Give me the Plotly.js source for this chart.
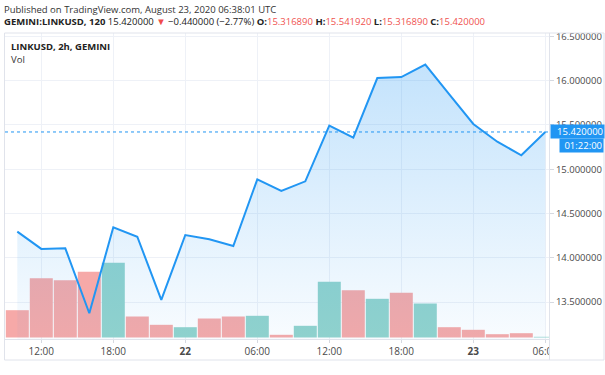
<!DOCTYPE html>
<html>
<head>
<meta charset="utf-8">
<script src="https://cdn.plot.ly/plotly-3.0.1.min.js"></script>
<style>html,body{margin:0;padding:0;background:#fff;}#chart{width:605px;height:375px;}</style>
</head>
<body>
<div id="chart"></div>
<script>
// 2-hour bars, GEMINI:LINKUSD, Aug 21 10:00 -> Aug 23 06:00 (UTC)
const times = [
  '2020-08-21 10:00','2020-08-21 12:00','2020-08-21 14:00','2020-08-21 16:00','2020-08-21 18:00','2020-08-21 20:00','2020-08-21 22:00',
  '2020-08-22 00:00','2020-08-22 02:00','2020-08-22 04:00','2020-08-22 06:00','2020-08-22 08:00','2020-08-22 10:00','2020-08-22 12:00',
  '2020-08-22 14:00','2020-08-22 16:00','2020-08-22 18:00','2020-08-22 20:00','2020-08-22 22:00',
  '2020-08-23 00:00','2020-08-23 02:00','2020-08-23 04:00','2020-08-23 06:00'
];
const closePrice = [14.295, 14.10, 14.107, 13.374, 14.344, 14.238, 13.524, 14.257, 14.209, 14.133, 14.886, 14.754, 14.863, 15.491,
  15.356, 16.029, 16.04, 16.18, 15.845, 15.51, 15.31, 15.157, 15.42];
const volume = [27300, 59300, 57300, 65700, 74700, 21000, 12700, 10300, 19000, 21000, 21700, 2700, 11700, 55700,
  47300, 38700, 44700, 34000, 10300, 7700, 3300, 4300, 700];
const barDirection = ['down','down','down','down','up','down','down','up','down','down','up','down','up','up',
  'down','up','down','up','down','down','down','down','up'];
const tickTimes = ['2020-08-21 12:00','2020-08-21 18:00','2020-08-22 00:00','2020-08-22 06:00','2020-08-22 12:00','2020-08-22 18:00','2020-08-23 00:00','2020-08-23 06:00'];
const tickLabels = ['12:00','18:00','<b>22</b>','06:00','12:00','18:00','<b>23</b>','06:00'];
const priceTicks = [13.5, 14.0, 14.5, 15.0, 15.5, 16.0, 16.5];
const lastPrice = 15.42;

const UP = '#92d3cc', DOWN = '#f6a9a8', BLUE = '#2196f3';
const FONT = 'Open Sans, sans-serif';

const traces = [
  {
    type: 'bar', x: times, y: volume, yaxis: 'y', xaxis: 'x',
    marker: { color: barDirection.map(d => d === 'up' ? UP : DOWN), line: { width: 0 } },
    width: 2 * 3600 * 1000 * 23 / 24,
    hoverinfo: 'skip'
  },
  {
    type: 'scatter', mode: 'lines', x: times, y: closePrice, yaxis: 'y2', xaxis: 'x',
    line: { color: BLUE, width: 2 },
    fill: 'tozeroy',
    fillgradient: { type: 'vertical', start: 13.08, stop: 16.2,
      colorscale: [[0, 'rgba(33,150,243,0.03)'], [1, 'rgba(33,150,243,0.27)']] },
    hoverinfo: 'skip'
  }
];

// paper coordinate helpers (plot area: x 5..549, y 33..339)
const px = v => (v - 5) / 544;
const py = v => (339 - v) / 306;

const layout = {
  width: 605, height: 375,
  margin: { l: 5, r: 56, t: 33, b: 36 },
  paper_bgcolor: '#ffffff', plot_bgcolor: '#ffffff',
  showlegend: false,
  font: { family: FONT, size: 10, color: '#4a4a4a' },
  xaxis: {
    type: 'date', range: ['2020-08-21 08:58:30', '2020-08-23 06:18:30'],
    tickvals: tickTimes, ticktext: tickLabels,
    showgrid: true, gridcolor: '#eef1f7', gridwidth: 1,
    ticks: 'outside', ticklen: 3, tickcolor: '#d6d9e0',
    tickfont: { family: FONT, size: 10, color: '#4a4a4a' },
    showline: true, linecolor: '#e0e3eb', linewidth: 1,
    zeroline: false, fixedrange: true
  },
  yaxis: {
    range: [-1500, 304500], visible: false, showgrid: false, zeroline: false, fixedrange: true
  },
  yaxis2: {
    overlaying: 'y', side: 'right', range: [13.0835, 16.537],
    tickvals: priceTicks, ticktext: priceTicks.map(v => v.toFixed(6)),
    showgrid: true, gridcolor: '#eef1f7', gridwidth: 1,
    ticks: 'outside', ticklen: 4, tickcolor: '#d6d9e0',
    tickfont: { family: FONT, size: 9.5, color: '#4a4a4a' },
    showline: true, linecolor: '#e0e3eb', linewidth: 1,
    zeroline: false, fixedrange: true
  },
  shapes: [
    // last price dotted line
    { type: 'line', xref: 'paper', yref: 'y2', x0: 0, x1: 1, y0: lastPrice, y1: lastPrice,
      line: { color: BLUE, width: 1, dash: 'dot' }, layer: 'above' },
    // cover clipped last time label beyond price axis
    { type: 'rect', xref: 'paper', yref: 'paper', x0: px(549.5), x1: px(604), y0: py(340), y1: py(359.5),
      fillcolor: '#ffffff', line: { width: 0 }, layer: 'above' },
    // outer frame
    { type: 'rect', xref: 'paper', yref: 'paper', x0: px(4.5), x1: px(604), y0: py(360), y1: py(33),
      line: { color: '#e0e3eb', width: 1 }, fillcolor: 'rgba(0,0,0,0)', layer: 'above' },
    // price axis separator
    { type: 'line', xref: 'paper', yref: 'paper', x0: px(549.5), x1: px(549.5), y0: py(360), y1: py(33),
      line: { color: '#e0e3eb', width: 1 }, layer: 'above' }
  ],
  annotations: [
    { xref: 'paper', yref: 'paper', x: px(3), y: py(9), xanchor: 'left', yanchor: 'middle', showarrow: false,
      text: 'Published on TradingView.com, August 23, 2020 06:38:01 UTC', borderpad: 0,
      font: { family: FONT, size: 9.5, color: '#333333' } },
    { xref: 'paper', yref: 'paper', x: px(3), y: py(21.5), xanchor: 'left', yanchor: 'middle', showarrow: false, borderpad: 0,
      text: '<b>GEMINI:LINKUSD, 120</b> 15.420000 <span style="color:#f04b4b">▼</span> −0.440000 (−2.77%) ' +
            '<b>O:</b><span style="color:#f05350">15.316890</span> <b>H:</b><span style="color:#f05350">15.541920</span> ' +
            '<b>L:</b><span style="color:#f05350">15.316890</span> <b>C:</b><span style="color:#f05350">15.420000</span>',
      font: { family: FONT, size: 9.5, color: '#222222' } },
    { xref: 'paper', yref: 'paper', x: px(10), y: py(46.5), xanchor: 'left', yanchor: 'middle', showarrow: false, borderpad: 0,
      text: '<b>LINKUSD, 2h, GEMINI</b>', font: { family: FONT, size: 9.5, color: '#222222' } },
    { xref: 'paper', yref: 'paper', x: px(10), y: py(59.5), xanchor: 'left', yanchor: 'middle', showarrow: false, borderpad: 0,
      text: 'Vol', font: { family: FONT, size: 9.5, color: '#333333' } },
    { xref: 'paper', yref: 'y2', x: px(549.5), y: lastPrice, xanchor: 'left', yanchor: 'middle', showarrow: false,
      text: '15.420000', bgcolor: BLUE, width: 51, height: 11, borderpad: 1, align: 'right',
      font: { family: FONT, size: 9.5, color: '#ffffff' } },
    { xref: 'paper', yref: 'paper', x: px(604), y: py(145.5), xanchor: 'right', yanchor: 'middle', showarrow: false,
      text: '01:22:00', bgcolor: BLUE, width: 41, height: 11, borderpad: 1, align: 'right',
      font: { family: FONT, size: 9.5, color: '#ffffff' } }
  ]
};

Plotly.newPlot('chart', traces, layout, { displayModeBar: false, staticPlot: true });
</script>
</body>
</html>
